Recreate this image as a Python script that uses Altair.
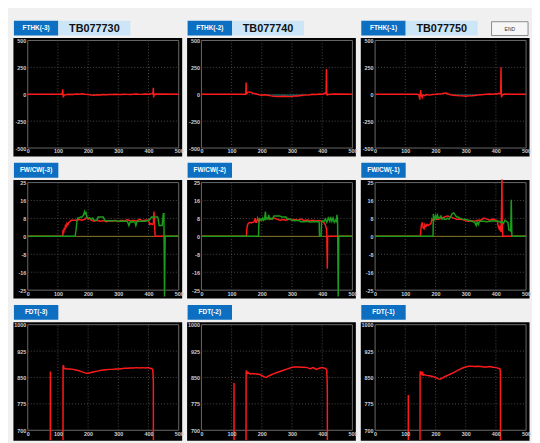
import altair as alt
import pandas as pd

# ---------------- axis ticks / labels ----------------
X_TICKS = [0, 100, 200, 300, 400, 500]
FTHK_TICKS = [-500, -250, 0, 250, 500]
FWCW_TICKS = [-25, -16.6667, -8.3333, 0, 8.3333, 16.6667, 25]
FDT_TICKS = [700, 775, 850, 925, 1000]

TB_CODES = ["TB077730", "TB077740", "TB077750"]
FTHK_LABELS = ["FTHK(-3)", "FTHK(-2)", "FTHK(-1)"]
FWCW_LABELS = ["FW/CW(-3)", "FW/CW(-2)", "FW/CW(-1)"]
FDT_LABELS = ["FDT(-3)", "FDT(-2)", "FDT(-1)"]

# ---------------- FTHK series ----------------
FTHK3_X = [0, 114, 116, 117, 118, 119, 121, 125, 130, 140, 150, 160, 170, 180, 190, 200, 210, 220, 230, 240, 250, 260, 270, 280, 290, 300, 310, 320, 330, 340, 350, 360, 370, 380, 390, 400, 410, 413, 415, 416, 417, 418, 420, 425, 500]
FTHK3_Y = [0, 0, 45, -10, -30, -15, -8, -5, -3, 0, -2, 2, 0, 5, 0, -3, -8, -10, -5, -6, -3, -4, -2, -3, 0, -2, -3, 0, -1, -2, 0, 2, -1, 0, 3, 0, 5, 8, 15, 60, -30, -10, 0, 2, 0]
FTHK3_TX = [200, 220, 240, 260, 280]
FTHK3_TY = [0, -6, -8, -5, 0]

FTHK2_X = [0, 145, 147, 148, 149, 151, 155, 160, 165, 170, 180, 190, 200, 210, 220, 230, 240, 250, 260, 270, 280, 290, 300, 310, 320, 330, 340, 350, 360, 370, 380, 390, 400, 405, 410, 413, 414, 415, 416, 417, 420, 430, 440, 500]
FTHK2_Y = [0, 0, 0, 110, 5, 10, 20, 22, 18, 10, 5, -5, -10, -5, -10, -15, -18, -20, -22, -18, -20, -22, -20, -15, -16, -12, -8, -8, -5, 0, -2, 3, 0, 5, 10, 5, 235, 30, -5, -8, -2, 0, 2, 0]
FTHK2_TX = [185, 200, 220, 240, 260, 280, 300, 320, 340, 355]
FTHK2_TY = [0, -8, -8, -15, -19, -18, -18, -13, -7, 0]

FTHK1_X = [0, 140, 145, 147, 148, 149, 150, 151, 152, 154, 156, 158, 160, 165, 170, 180, 190, 200, 210, 220, 230, 235, 240, 250, 260, 270, 280, 290, 300, 310, 320, 330, 340, 350, 360, 370, 380, 390, 400, 405, 410, 414, 416, 417, 418, 419, 420, 425, 430, 440, 500]
FTHK1_Y = [0, 0, -5, -30, -50, -20, 10, 40, 5, -15, -30, -10, -5, -12, -3, -8, -2, 0, 3, 5, 10, 12, 5, -5, -10, -12, -15, -15, -18, -15, -14, -12, -8, -5, -3, 0, 2, 0, 5, 3, 8, 5, 10, 250, 5, -30, -10, 0, 2, 0, 0]
FTHK1_TX = [240, 260, 280, 300, 320, 340, 360]
FTHK1_TY = [0, -8, -12, -15, -12, -7, 0]

# ---------------- FW/CW series ----------------
FW3_RX = [0, 116, 117, 119, 121, 123, 125, 128, 130, 133, 136, 140, 145, 150, 160, 170, 180, 190, 195, 200, 205, 210, 220, 230, 240, 250, 260, 270, 280, 290, 300, 310, 320, 330, 340, 350, 360, 370, 380, 390, 400, 404, 408, 412, 416, 418, 420, 422, 423, 500]
FW3_RY = [0, 0, 3, 1.5, 4, 3, 5, 4.5, 6, 5.5, 6.5, 7, 7.5, 7.5, 7.5, 7.8, 7.5, 8, 9, 8, 8.5, 7.5, 7, 7.5, 7.0, 7.3, 6.8, 7.2, 7.0, 7.5, 6.8, 7.5, 7.0, 7.8, 7.2, 7.5, 7.0, 8.0, 7.2, 7.6, 7.5, 5.5, 6, 5.5, 6, 11.5, 5, 0, 0, 0]
FW3_GX = [0, 157, 160, 163, 166, 170, 175, 180, 185, 188, 190, 193, 196, 200, 205, 210, 215, 220, 225, 230, 233, 238, 245, 250, 255, 260, 270, 280, 290, 300, 310, 320, 330, 335, 340, 345, 350, 355, 358, 362, 370, 380, 390, 400, 405, 410, 415, 420, 425, 430, 432, 435, 440, 445, 449, 451, 453, 455, 500]
FW3_GY = [0, 0, 3, 7, 8.5, 8.5, 9, 9, 10, 11.5, 10.5, 11, 9, 8.5, 8.5, 8, 8.5, 7.5, 7.5, 7.5, 9, 9, 9, 9, 7.5, 7.3, 7.3, 7.3, 7.3, 7, 7, 7, 7, 5, 7, 6.5, 7, 6.5, 5, 7, 7, 7, 7, 7.5, 8, 9, 9, 9, 9, 9, 8, 5, 5, 5, 10.5, 10.5, -28, 0, 0]

FW2_RX = [0, 149, 150, 152, 155, 160, 165, 170, 175, 178, 180, 183, 186, 190, 195, 200, 210, 220, 230, 240, 250, 260, 270, 280, 290, 300, 310, 320, 330, 340, 350, 360, 370, 380, 390, 400, 405, 410, 413, 415, 417, 418, 419, 421, 450, 500]
FW2_RY = [0, 0, 3, 5, 6, 6.5, 6.2, 6.5, 6.8, 8.5, 6.5, 6.5, 8.5, 7, 7.5, 8, 8, 8.5, 8, 8.5, 8, 7.5, 7.8, 7.5, 8, 7.6, 7.8, 7.5, 8, 7.4, 7.6, 7.3, 7.5, 7.2, 7.4, 7, 6.5, 5.5, 4, 3, -15, 0, 0, 0, 0, 0]
FW2_GX = [0, 189, 190, 192, 195, 198, 200, 203, 206, 209, 212, 214, 217, 220, 223, 226, 230, 235, 240, 245, 250, 255, 260, 265, 270, 275, 280, 285, 290, 295, 300, 310, 320, 330, 340, 350, 360, 370, 380, 388, 390, 391, 393, 396, 398, 400, 405, 410, 415, 420, 425, 428, 432, 436, 440, 444, 447, 449, 451, 453, 455, 500]
FW2_GY = [0, 0, 5, 8.5, 7.5, 7.8, 7.5, 8.5, 7.5, 8, 11.5, 8, 8.5, 8, 10, 8, 8.5, 8, 9.5, 9.5, 9.5, 9.5, 9.5, 9, 9, 9, 9, 8, 8, 8, 7.5, 7.3, 7.5, 6.8, 6.8, 7, 6.7, 6.8, 6.9, 6.8, 6.7, 0, 0, 0, 7, 7.2, 6.8, 8, 6.5, 8.5, 7, 9, 7, 8.5, 6.5, 7.5, 7, 10, 6.5, -28, 0, 0]

FW1_RX = [0, 150, 151, 153, 156, 159, 162, 165, 168, 172, 176, 180, 185, 188, 190, 195, 200, 210, 220, 230, 240, 250, 260, 270, 280, 290, 300, 310, 320, 330, 340, 350, 360, 370, 380, 390, 400, 405, 408, 411, 414, 417, 419, 420, 421, 423, 455, 500]
FW1_RY = [0, 0, 2, 5, 6.5, 4, 3.5, 5.5, 4.5, 5.5, 5, 5.5, 6, 8, 7.5, 8, 8, 8, 8.5, 9, 9.5, 9, 8.5, 8, 8, 7.8, 7.2, 7, 7.2, 7, 7.5, 7.5, 8.5, 8, 7.5, 8, 7.5, 7, 4.5, 3.5, 5, 2, 15, 30, 5, 0, 0, 0]
FW1_GX = [0, 192, 193, 195, 197, 200, 203, 206, 210, 214, 218, 222, 226, 230, 235, 240, 245, 250, 255, 260, 265, 270, 275, 280, 290, 300, 310, 320, 330, 335, 338, 342, 346, 350, 360, 370, 380, 390, 400, 410, 415, 420, 425, 430, 435, 440, 443, 446, 449, 451, 453, 455, 500]
FW1_GY = [0, 0, 10.5, 7.5, 8, 9.5, 8, 10, 8.5, 8.5, 9.5, 8, 8.5, 8, 8, 8.5, 8, 9, 10.5, 11, 10, 9, 9, 8.5, 8, 7.8, 7.5, 7, 6.5, 5, 6.8, 5.5, 7, 7, 7, 6.8, 7, 7.2, 7, 7, 6.5, 7, 6, 7.5, 7, 6.5, 3, 3, 2.5, 17, 0, 0, 0]

ZERO_X = [0, 500]
ZERO_Y = [0, 0]

# ---------------- FDT series ----------------
FDT3_X = [0, 74, 75, 76, 116, 117, 118, 120, 125, 130, 140, 150, 160, 170, 180, 190, 195, 200, 210, 220, 230, 240, 250, 260, 270, 280, 290, 300, 310, 320, 330, 340, 350, 360, 370, 380, 390, 400, 405, 410, 414, 415, 416, 417, 500]
FDT3_Y = [0, 0, 867, 0, 0, 882, 885, 876, 875, 874, 874, 873, 871, 869, 866, 863, 862, 862, 864, 866, 868, 870, 871, 872, 873, 873, 874, 874, 875, 876, 876, 877, 877, 878, 877, 878, 877, 878, 876, 875, 873, 860, 838, 0, 0]

FDT2_X = [0, 107, 108, 109, 147, 148, 149, 150, 152, 155, 160, 170, 180, 190, 200, 205, 210, 215, 220, 230, 240, 250, 260, 270, 280, 290, 300, 310, 320, 330, 340, 350, 360, 370, 380, 390, 400, 405, 410, 413, 415, 416, 417, 418, 500]
FDT2_Y = [0, 0, 834, 0, 0, 860, 870, 866, 862, 864, 860, 861, 860, 859, 856, 853, 851, 850, 853, 857, 861, 864, 867, 870, 873, 876, 879, 880, 880, 879, 879, 878, 875, 878, 873, 876, 878, 877, 876, 874, 870, 850, 815, 0, 0]

FDT1_X = [0, 109, 110, 111, 148, 149, 150, 152, 154, 156, 158, 160, 165, 170, 180, 190, 200, 210, 215, 220, 230, 240, 250, 260, 270, 280, 290, 300, 310, 320, 330, 340, 350, 360, 370, 380, 390, 400, 410, 414, 415, 416, 500]
FDT1_Y = [0, 0, 800, 0, 0, 860, 868, 858, 866, 856, 862, 857, 858, 856, 855, 853, 850, 846, 845, 847, 852, 856, 860, 864, 869, 873, 877, 880, 882, 882, 881, 882, 881, 880, 880, 881, 879, 878, 876, 874, 860, 0, 0]

# ---------------- styling ----------------
FONT = "Liberation Sans"
LABEL_C = "#cfcfcf"
RED = "#ff1a1a"
GREEN = "#1c9c1c"
OLIVE = "#85762a"
TEAL = "#1f4d4d"
BADGE = "#0c6fc2"
TBBOX = "#cde6f7"
PANEL_W = 171
PANEL_H = 120
LW = 1.5
LABEL_EXPR = "(datum.value < 0 ? '-' : '') + floor(abs(datum.value) + 0.0001)"


def panel(label, ymin, ymax, yticks, ybottom, lines, areas=(), tb=None, end=False):
    xs = alt.Scale(domain=[0, 500], range=[15, 168], nice=False, zero=False)
    ys = alt.Scale(domain=[ymin, ymax], range=[ybottom, 3], nice=False, zero=False)
    xaxis = alt.Axis(values=X_TICKS, grid=False, domain=False, ticks=False,
                     offset=ybottom - PANEL_H, labelPadding=1, labelFontSize=5.5,
                     labelColor=LABEL_C, labelFont=FONT, labelFontWeight="bold",
                     title=None, labelOverlap=False, labelFlush=False,
                     labelBound=False, labelExpr=LABEL_EXPR, zindex=1)
    yaxis = alt.Axis(values=yticks, grid=False, domain=False, ticks=False,
                     offset=-15, labelPadding=2, labelFontSize=5.5,
                     labelColor=LABEL_C, labelFont=FONT, labelFontWeight="bold",
                     title=None, labelOverlap=False, labelFlush=False,
                     labelBound=False, labelExpr=LABEL_EXPR, zindex=1)

    inner_y = [v for v in yticks if ymin < v < ymax]
    vgrid = pd.DataFrame({"x": X_TICKS[1:-1], "y": ymin, "y1": ymax})
    hgrid = pd.DataFrame({"y": inner_y, "x": 0, "x1": 500})
    frame = pd.DataFrame({"x": [0], "x1": [500], "y": [ymin], "y1": [ymax]})

    def X(f):
        return alt.X(f, scale=xs, axis=xaxis)

    def Y(f):
        return alt.Y(f, scale=ys, axis=yaxis)

    layers = [
        alt.Chart(frame).mark_rect(fillOpacity=0, stroke="#6a6a6a", strokeWidth=1).encode(
            x=X("x:Q"), x2="x1:Q", y=Y("y:Q"), y2="y1:Q"),
        alt.Chart(vgrid).mark_rule(color="#4a4a4a", strokeDash=[1, 2], strokeWidth=1).encode(
            x=X("x:Q"), y=Y("y:Q"), y2="y1:Q"),
        alt.Chart(hgrid).mark_rule(color="#4a4a4a", strokeDash=[1, 2], strokeWidth=1).encode(
            y=Y("y:Q"), x=X("x:Q"), x2="x1:Q"),
    ]
    for ax, ay in areas:
        df = pd.DataFrame({"x": ax, "y": ay, "z": 0})
        layers.append(alt.Chart(df).mark_area(color=TEAL, clip=True).encode(
            x=X("x:Q"), y=Y("y:Q"), y2="z:Q"))
    for lx, ly, col, w in lines:
        df = pd.DataFrame({"x": lx, "y": ly})
        layers.append(alt.Chart(df).mark_line(color=col, strokeWidth=w, clip=True).encode(
            x=X("x:Q"), y=Y("y:Q")))

    lab = pd.DataFrame({"t": [label]})
    layers.append(alt.Chart(lab).mark_rect(color=BADGE).encode(
        x=alt.value(1), x2=alt.value(46), y=alt.value(-17), y2=alt.value(-2)))
    layers.append(alt.Chart(lab).mark_text(color="white", fontSize=6.5, fontWeight="bold",
                                           font=FONT).encode(
        x=alt.value(23.5), y=alt.value(-9.5), text="t:N"))
    if tb is not None:
        tbd = pd.DataFrame({"t": [tb]})
        layers.append(alt.Chart(tbd).mark_rect(color=TBBOX).encode(
            x=alt.value(46), x2=alt.value(119), y=alt.value(-17), y2=alt.value(-2)))
        layers.append(alt.Chart(tbd).mark_text(color="#111111", fontSize=11, fontWeight="bold",
                                               font=FONT).encode(
            x=alt.value(82.5), y=alt.value(-9), text="t:N"))
    if end:
        ed = pd.DataFrame({"t": ["END"]})
        layers.append(alt.Chart(ed).mark_rect(color="#f6f6f6", stroke="#8a8a8a", strokeWidth=1).encode(
            x=alt.value(133), x2=alt.value(170), y=alt.value(-16), y2=alt.value(-2)))
        layers.append(alt.Chart(ed).mark_text(color="#333333", fontSize=5, font=FONT).encode(
            x=alt.value(151.5), y=alt.value(-9), text="t:N"))
    return alt.layer(*layers).properties(width=PANEL_W, height=PANEL_H)


panels = [
    panel(FTHK_LABELS[0], -500, 500, FTHK_TICKS, 112,
          [(FTHK3_X, FTHK3_Y, RED, LW)], areas=[(FTHK3_TX, FTHK3_TY)], tb=TB_CODES[0]),
    panel(FTHK_LABELS[1], -500, 500, FTHK_TICKS, 112,
          [(FTHK2_X, FTHK2_Y, RED, LW)], areas=[(FTHK2_TX, FTHK2_TY)], tb=TB_CODES[1]),
    panel(FTHK_LABELS[2], -500, 500, FTHK_TICKS, 112,
          [(FTHK1_X, FTHK1_Y, RED, LW)], areas=[(FTHK1_TX, FTHK1_TY)], tb=TB_CODES[2], end=True),
    panel(FWCW_LABELS[0], -25, 25, FWCW_TICKS, 112,
          [(ZERO_X, ZERO_Y, OLIVE, 1), (FW3_RX, FW3_RY, RED, LW), (FW3_GX, FW3_GY, GREEN, LW)]),
    panel(FWCW_LABELS[1], -25, 25, FWCW_TICKS, 112,
          [(ZERO_X, ZERO_Y, OLIVE, 1), (FW2_RX, FW2_RY, RED, LW), (FW2_GX, FW2_GY, GREEN, LW)]),
    panel(FWCW_LABELS[2], -25, 25, FWCW_TICKS, 112,
          [(ZERO_X, ZERO_Y, OLIVE, 1), (FW1_RX, FW1_RY, RED, LW), (FW1_GX, FW1_GY, GREEN, LW)]),
    panel(FDT_LABELS[0], 700, 1000, FDT_TICKS, 110, [(FDT3_X, FDT3_Y, RED, LW)]),
    panel(FDT_LABELS[1], 700, 1000, FDT_TICKS, 110, [(FDT2_X, FDT2_Y, RED, LW)]),
    panel(FDT_LABELS[2], 700, 1000, FDT_TICKS, 110, [(FDT1_X, FDT1_Y, RED, LW)]),
]

chart = alt.concat(
    *panels, columns=3, spacing={"row": 24, "column": 5}, bounds="flush"
).properties(
    background="#f0f0f0",
    padding={"left": 4, "top": 9, "right": 0, "bottom": 0},
).configure_view(fill="#000000", stroke="transparent")

chart.save("out.html", embed_options={"renderer": "svg", "actions": False})
